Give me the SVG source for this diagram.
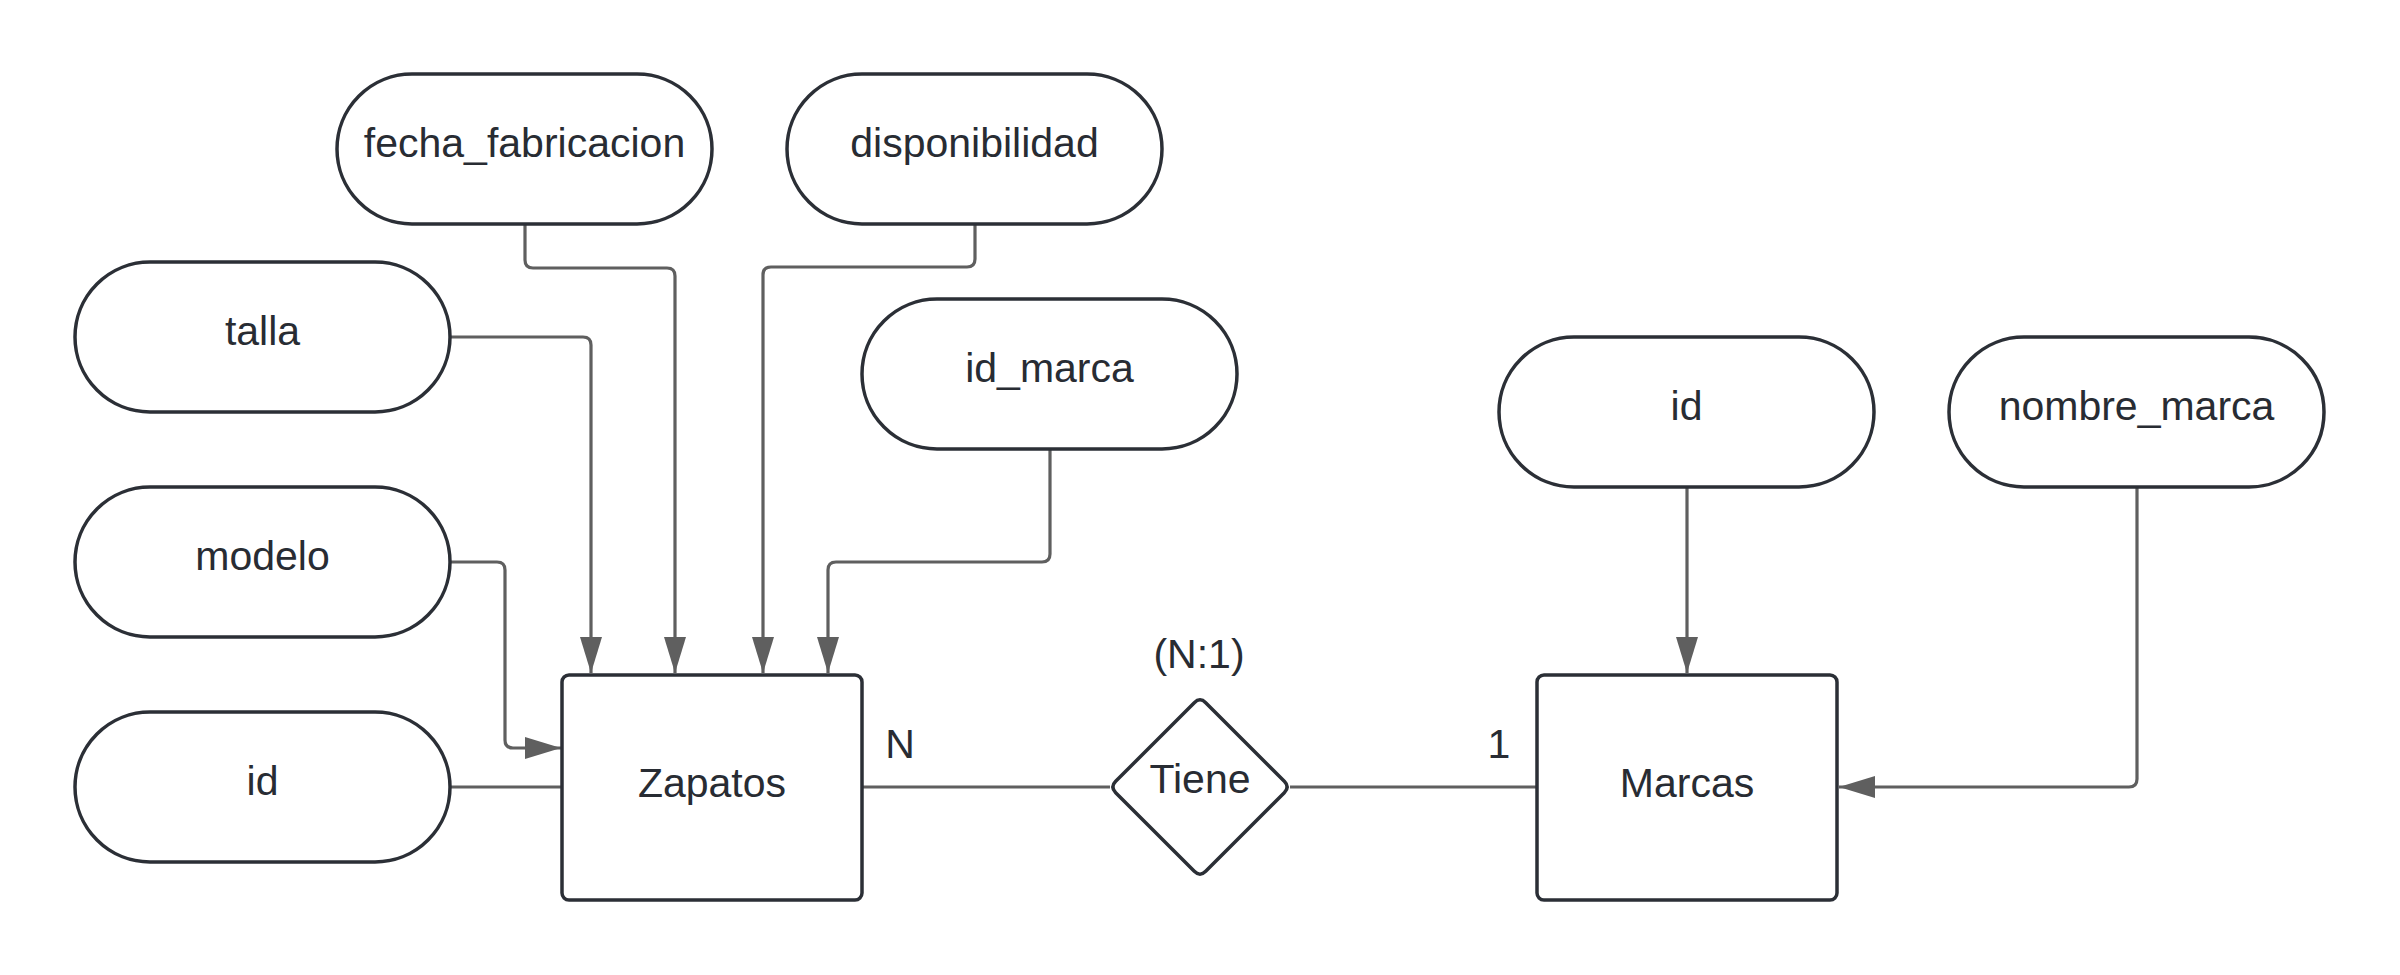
<svg xmlns="http://www.w3.org/2000/svg" width="2400" height="975" viewBox="0 0 2400 975">
<style>
.node{fill:#ffffff;stroke:#2b2f36;stroke-width:3.5;stroke-linejoin:round}
.lbl{font-family:"Liberation Sans",Arial,sans-serif;font-size:41px;fill:#282c33;text-anchor:middle}
.conn{fill:none;stroke:#5f5f5f;stroke-width:3.2;stroke-linejoin:round}
</style>
<defs>
<marker id="arr" markerUnits="userSpaceOnUse" markerWidth="38" markerHeight="24" refX="36" refY="11" orient="auto">
<path d="M0,0 L36,11 L0,22 Z" fill="#5f5f5f"/>
</marker>
</defs>
<rect width="2400" height="975" fill="#ffffff"/>
<g id="connectors">
<path class="conn" d="M450,337 H583 Q591,337 591,345 V673" marker-end="url(#arr)"/>
<path class="conn" d="M525,225 V260 Q525,268 533,268 H667 Q675,268 675,276 V673" marker-end="url(#arr)"/>
<path class="conn" d="M975,225 V259 Q975,267 967,267 H771 Q763,267 763,275 V673" marker-end="url(#arr)"/>
<path class="conn" d="M1050,449 V554 Q1050,562 1042,562 H836 Q828,562 828,570 V673" marker-end="url(#arr)"/>
<path class="conn" d="M450,562 H497 Q505,562 505,570 V740 Q505,748 513,748 H561" marker-end="url(#arr)"/>
<path class="conn" d="M450,787 H562"/>
<path class="conn" d="M862,787 H1110"/>
<path class="conn" d="M1290,787 H1537"/>
<path class="conn" d="M1687,487 V673" marker-end="url(#arr)"/>
<path class="conn" d="M2137,487 V779 Q2137,787 2129,787 H1839" marker-end="url(#arr)"/>
</g>
<g id="talla"><rect class="node" x="75" y="262" width="375" height="150" rx="75"/><text class="lbl" x="262.5" y="345">talla</text></g>
<g id="modelo"><rect class="node" x="75" y="487" width="375" height="150" rx="75"/><text class="lbl" x="262.5" y="570">modelo</text></g>
<g id="id_zapatos"><rect class="node" x="75" y="712" width="375" height="150" rx="75"/><text class="lbl" x="262.5" y="795">id</text></g>
<g id="fecha_fabricacion"><rect class="node" x="337" y="74" width="375" height="150" rx="75"/><text class="lbl" x="524.5" y="157">fecha_fabricacion</text></g>
<g id="disponibilidad"><rect class="node" x="787" y="74" width="375" height="150" rx="75"/><text class="lbl" x="974.5" y="157">disponibilidad</text></g>
<g id="id_marca"><rect class="node" x="862" y="299" width="375" height="150" rx="75"/><text class="lbl" x="1049.5" y="382">id_marca</text></g>
<g id="id_marcas"><rect class="node" x="1499" y="337" width="375" height="150" rx="75"/><text class="lbl" x="1686.5" y="420">id</text></g>
<g id="nombre_marca"><rect class="node" x="1949" y="337" width="375" height="150" rx="75"/><text class="lbl" x="2136.5" y="420">nombre_marca</text></g>
<g id="zapatos"><rect class="node" x="562" y="675" width="300" height="225" rx="7"/><text class="lbl" x="712" y="797">Zapatos</text></g>
<g id="marcas"><rect class="node" x="1537" y="675" width="300" height="225" rx="7"/><text class="lbl" x="1687" y="797">Marcas</text></g>
<g id="tiene"><path class="node" d="M1205.7,702.7 L1284.3,781.3 Q1290,787 1284.3,792.7 L1205.7,871.3 Q1200,877 1194.3,871.3 L1115.7,792.7 Q1110,787 1115.7,781.3 L1194.3,702.7 Q1200,697 1205.7,702.7 Z"/><text class="lbl" x="1200" y="793">Tiene</text></g>
<g id="labels">
<text class="lbl" x="1199" y="668">(N:1)</text>
<text class="lbl" x="900" y="758">N</text>
<text class="lbl" x="1499" y="758">1</text>
</g>
</svg>
